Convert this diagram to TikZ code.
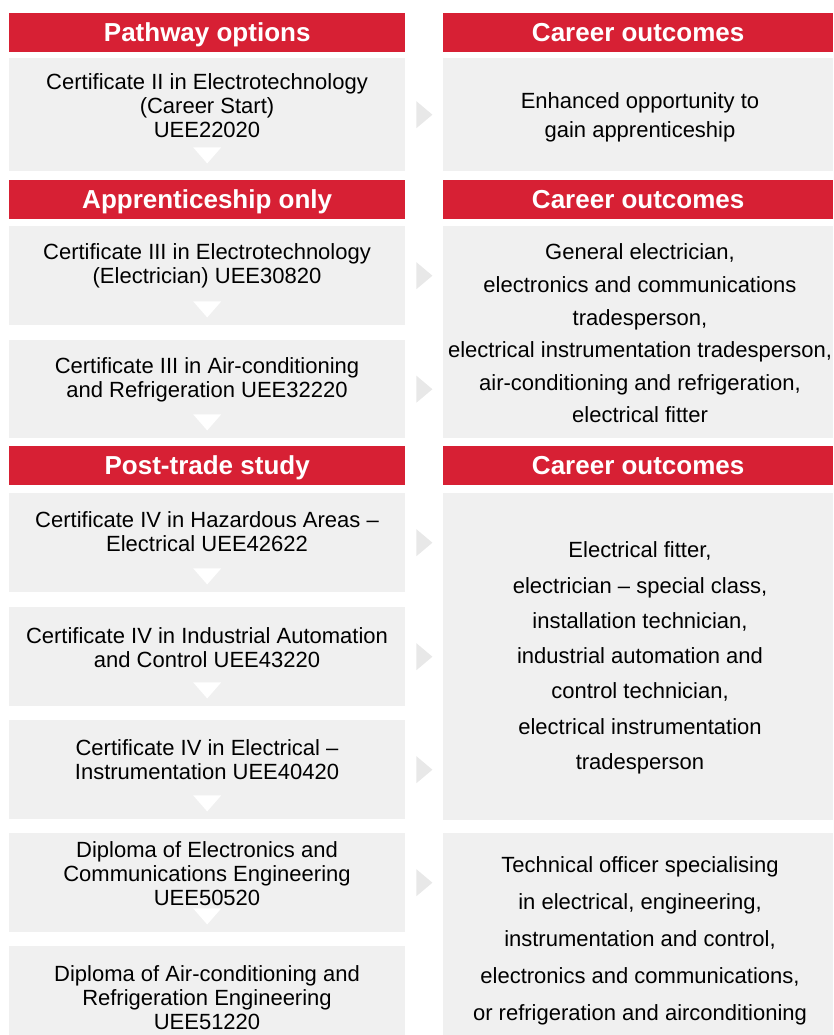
\documentclass[tikz,border=0pt]{standalone}
\usepackage{fontspec}
\setmainfont{Liberation Sans}
\definecolor{pathred}{RGB}{215,32,52}
\definecolor{boxgrey}{RGB}{240,240,240}
\definecolor{arrowgrey}{RGB}{232,232,232}

\begin{document}
\begin{tikzpicture}[x=1pt, y=-1pt,
    hdr/.style={anchor=north west, fill=pathred, text=white, inner sep=0pt, minimum height=39pt,
        font=\fontsize{26}{28}\bfseries\selectfont, text height=20pt, text depth=3pt},
    panel/.style={anchor=north west, fill=boxgrey, inner sep=0pt},
    lbox/.style={panel, minimum width=396pt},
    rbox/.style={panel, minimum width=390pt},
    ltxt/.style={align=center, inner sep=0pt, font=\fontsize{22}{24}\selectfont},
    rtxt/.style={align=center, inner sep=0pt},
    downtri/.style={fill=white},
    sidetri/.style={fill=arrowgrey}]
    \useasboundingbox (0,0) rectangle (833,1035);

    % headers
    \node[hdr, minimum width=396pt] (h1) at (9,13) {Pathway options};
    \node[hdr, minimum width=390pt] (c1) at (443,13) {Career outcomes};
    \node[hdr, minimum width=396pt] (h2) at (9,180) {Apprenticeship only};
    \node[hdr, minimum width=390pt] (c2) at (443,180) {Career outcomes};
    \node[hdr, minimum width=396pt] (h3) at (9,446) {Post-trade study};
    \node[hdr, minimum width=390pt] (c3) at (443,446) {Career outcomes};

    % pathway boxes
    \node[lbox, minimum height=113pt] (p1) at (9,58) {};
    \node[lbox, minimum height=99pt] (a1) at (9,226) {};
    \node[lbox, minimum height=98pt] (a2) at (9,340) {};
    \node[lbox, minimum height=99pt] (s1) at (9,493) {};
    \node[lbox, minimum height=99pt] (s2) at (9,607) {};
    \node[lbox, minimum height=99pt] (s3) at (9,720) {};
    \node[lbox, minimum height=99pt] (s4) at (9,833) {};
    \node[lbox, minimum height=89pt] (s5) at (9,946) {};

    % outcome boxes
    \node[rbox, minimum height=113pt] (r1) at (443,58) {};
    \node[rbox, minimum height=212pt] (r2) at (443,226) {};
    \node[rbox, minimum height=327pt] (r3) at (443,493) {};
    \node[rbox, minimum height=202pt] (r4) at (443,833) {};

    \node[ltxt] (p1t) at (207,106) {Certificate II in Electrotechnology\\(Career Start)\\UEE22020};
    \node[ltxt] (a1t) at (207,266) {Certificate III in Electrotechnology\\(Electrician) UEE30820};
    \node[ltxt] (a2t) at (207,380) {Certificate III in Air-conditioning\\and Refrigeration UEE32220};
    \node[ltxt] (s1t) at (207,532) {Certificate IV in Hazardous Areas --\\Electrical UEE42622};
    \node[ltxt] (s2t) at (207,648) {Certificate IV in Industrial Automation\\and Control UEE43220};
    \node[ltxt] (s3t) at (207,760) {Certificate IV in Electrical --\\Instrumentation UEE40420};
    \node[ltxt] (s4t) at (207,874) {Diploma of Electronics and\\Communications Engineering\\UEE50520};
    \node[ltxt] (s5t) at (207,998) {Diploma of Air-conditioning and\\Refrigeration Engineering\\UEE51220};

    \node[rtxt, font=\fontsize{22}{29}\selectfont] (r1t) at (640,117) {Enhanced opportunity to\\gain apprenticeship};
    \node[rtxt, font=\fontsize{22}{32.6}\selectfont] (r2t) at (640,333.5) {General electrician,\\electronics and communications\\tradesperson,\\electrical instrumentation tradesperson,\\air-conditioning and refrigeration,\\electrical fitter};
    \node[rtxt, font=\fontsize{22}{35.3}\selectfont] (r3t) at (640,658) {Electrical fitter,\\electrician -- special class,\\installation technician,\\industrial automation and\\control technician,\\electrical instrumentation\\tradesperson};
    \node[rtxt, font=\fontsize{22}{37}\selectfont] (r4t) at (640,941) {Technical officer specialising\\in electrical, engineering,\\instrumentation and control,\\electronics and communications,\\or refrigeration and airconditioning};

    % down markers
    \fill[downtri] ([shift={(-14pt,24pt)}]p1.south) -- ([shift={(14pt,24pt)}]p1.south) -- ([shift={(0pt,8pt)}]p1.south) -- cycle;
    \fill[downtri] ([shift={(-14pt,24pt)}]a1.south) -- ([shift={(14pt,24pt)}]a1.south) -- ([shift={(0pt,8pt)}]a1.south) -- cycle;
    \fill[downtri] ([shift={(-14pt,24pt)}]a2.south) -- ([shift={(14pt,24pt)}]a2.south) -- ([shift={(0pt,8pt)}]a2.south) -- cycle;
    \fill[downtri] ([shift={(-14pt,24pt)}]s1.south) -- ([shift={(14pt,24pt)}]s1.south) -- ([shift={(0pt,8pt)}]s1.south) -- cycle;
    \fill[downtri] ([shift={(-14pt,24pt)}]s2.south) -- ([shift={(14pt,24pt)}]s2.south) -- ([shift={(0pt,8pt)}]s2.south) -- cycle;
    \fill[downtri] ([shift={(-14pt,24pt)}]s3.south) -- ([shift={(14pt,24pt)}]s3.south) -- ([shift={(0pt,8pt)}]s3.south) -- cycle;
    \fill[downtri] ([shift={(-14pt,24pt)}]s4.south) -- ([shift={(14pt,24pt)}]s4.south) -- ([shift={(0pt,8pt)}]s4.south) -- cycle;

    % side markers
    \fill[sidetri] ([shift={(11pt,13.5pt)}]p1.east) -- ([shift={(11pt,-13.5pt)}]p1.east) -- ([shift={(27pt,0pt)}]p1.east) -- cycle;
    \fill[sidetri] ([shift={(11pt,13.5pt)}]a1.east) -- ([shift={(11pt,-13.5pt)}]a1.east) -- ([shift={(27pt,0pt)}]a1.east) -- cycle;
    \fill[sidetri] ([shift={(11pt,13.5pt)}]a2.east) -- ([shift={(11pt,-13.5pt)}]a2.east) -- ([shift={(27pt,0pt)}]a2.east) -- cycle;
    \fill[sidetri] ([shift={(11pt,13.5pt)}]s1.east) -- ([shift={(11pt,-13.5pt)}]s1.east) -- ([shift={(27pt,0pt)}]s1.east) -- cycle;
    \fill[sidetri] ([shift={(11pt,13.5pt)}]s2.east) -- ([shift={(11pt,-13.5pt)}]s2.east) -- ([shift={(27pt,0pt)}]s2.east) -- cycle;
    \fill[sidetri] ([shift={(11pt,13.5pt)}]s3.east) -- ([shift={(11pt,-13.5pt)}]s3.east) -- ([shift={(27pt,0pt)}]s3.east) -- cycle;
    \fill[sidetri] ([shift={(11pt,13.5pt)}]s4.east) -- ([shift={(11pt,-13.5pt)}]s4.east) -- ([shift={(27pt,0pt)}]s4.east) -- cycle;

\end{tikzpicture}
\end{document}
